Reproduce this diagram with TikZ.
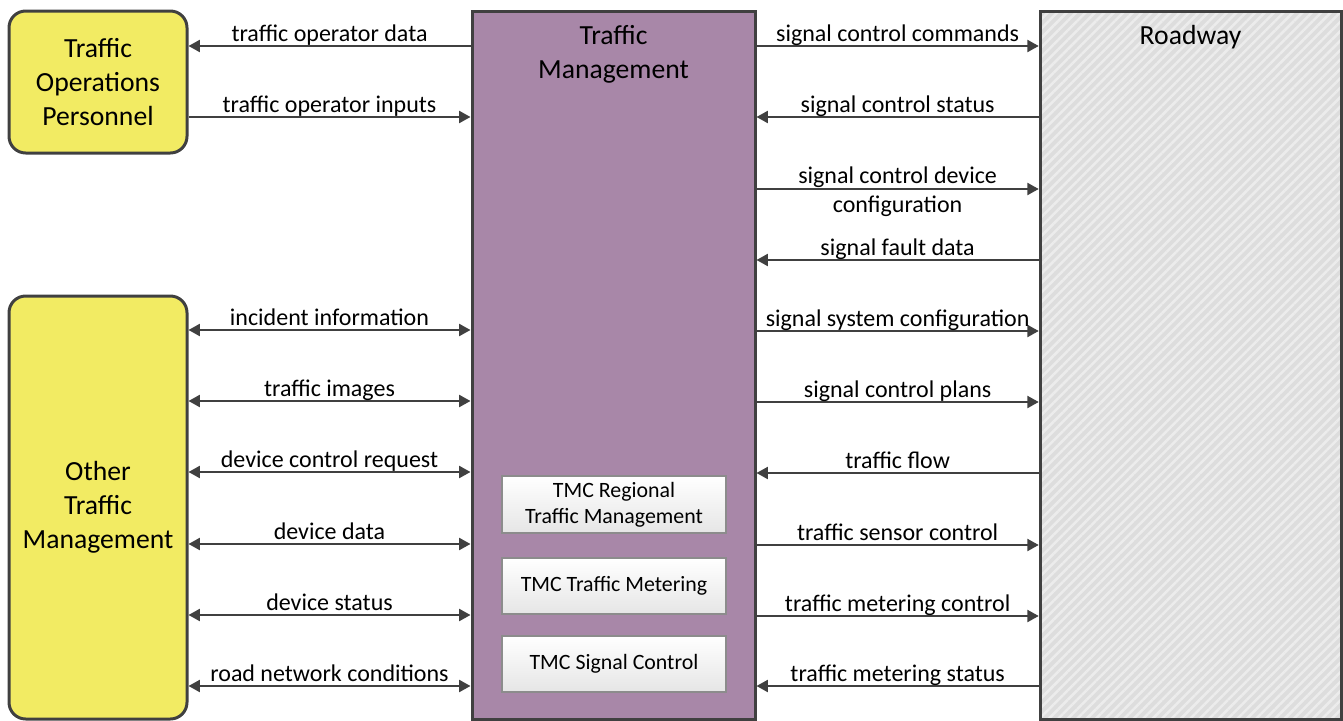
\documentclass[tikz,border=0pt]{standalone}
\usepackage{fontspec}
\setmainfont{Carlito}
\usetikzlibrary{arrows.meta,patterns.meta,fit}
\definecolor{ylw}{RGB}{242,235,99}
\definecolor{prp}{RGB}{168,135,168}
\definecolor{edge}{RGB}{64,64,64}
\definecolor{roadfill}{RGB}{221,221,221}
\definecolor{stripe}{RGB}{236,236,236}
\begin{document}
\begin{tikzpicture}[x=0.75pt,y=-0.75pt,
  term/.style={draw=edge, line width=2.25pt, fill=ylw, rounded corners=12.5pt, inner sep=0pt},
  termtext/.style={inner sep=0pt, align=center, font=\fontsize{20.75}{25.5}\selectfont},
  sys/.style={draw=edge, line width=2.25pt, fill=prp, inner sep=0pt},
  roadbox/.style={draw=edge, line width=2.25pt, preaction={fill=roadfill},
    pattern={Lines[angle=45,distance=5pt,line width=1.9pt]}, pattern color=stripe,
    inner sep=0pt},
  title/.style={anchor=north, inner sep=0pt, align=center,
    font=\fontsize{20.75}{25.5}\selectfont},
  sub/.style={draw=black!45, line width=0.9pt, top color=white, bottom color=black!10,
    inner sep=0pt},
  subtext/.style={inner sep=0pt, align=center, font=\fontsize{16.4}{19.5}\selectfont},
  flow/.style={draw=edge, line width=1.5pt},
  fwd/.style={flow, -{Triangle[length=8.5pt,width=9pt]}},
  both/.style={flow, {Triangle[length=8.5pt,width=9pt]}-{Triangle[length=8.5pt,width=9pt]}},
  labfont/.style={inner sep=0pt, text=black, font=\fontsize{18}{21.75}\selectfont},
  lab/.style={labfont, anchor=base, yshift=3.3pt},
  labtwo/.style={labfont, anchor=base, align=center, yshift=-17.25pt}
]
\useasboundingbox (0,0) rectangle (1343,721);

% terminators and the central system
\node[term, fit={(9,11) (187,153)}] (top) {};
\node[termtext] (toptext) at (top.center) {Traffic\\Operations\\Personnel};
\node[term, fit={(9,296) (187,719)}] (otm) {};
\node[termtext] (otmtext) at (otm.center) {Other\\Traffic\\Management};
\node[sys, fit={(472,11) (755,719)}] (tm) {};
\node[title] (tmtitle) at (613.5,25) {Traffic\\Management};
\node[roadbox, fit={(1040,11) (1341,719)}] (road) {};
\node[title] (roadtitle) at (1190.5,25) {Roadway};

% subsystems inside Traffic Management
\node[sub, fit={(502,476) (726,533)}] (reg) {};
\node[subtext] (regtext) at (reg.center) {TMC Regional\\Traffic Management};
\node[sub, fit={(502,558) (726,614)}] (met) {};
\node[subtext] (mettext) at (met.center) {TMC Traffic Metering};
\node[sub, fit={(502,636) (726,692)}] (sig) {};
\node[subtext] (sigtext) at (sig.center) {TMC Signal Control};

% flows on the left
\draw[fwd] (tm.west |- 0,46) -- node[lab]{traffic operator data} (top.east |- 0,46);
\draw[fwd] (top.east |- 0,117) -- node[lab]{traffic operator inputs} (tm.west |- 0,117);
\draw[both] (otm.east |- 0,330) -- node[lab]{incident information} (tm.west |- 0,330);
\draw[both] (otm.east |- 0,401) -- node[lab]{traffic images} (tm.west |- 0,401);
\draw[both] (otm.east |- 0,472) -- node[lab]{device control request} (tm.west |- 0,472);
\draw[both] (otm.east |- 0,544) -- node[lab]{device data} (tm.west |- 0,544);
\draw[both] (otm.east |- 0,615) -- node[lab]{device status} (tm.west |- 0,615);
\draw[both] (otm.east |- 0,686) -- node[lab]{road network conditions} (tm.west |- 0,686);

% flows on the right
\draw[fwd] (tm.east |- 0,46) -- node[lab]{signal control commands} (road.west |- 0,46);
\draw[fwd] (road.west |- 0,117) -- node[lab]{signal control status} (tm.east |- 0,117);
\draw[fwd] (tm.east |- 0,189) -- node[labtwo]{signal control device\\configuration} (road.west |- 0,189);
\draw[fwd] (road.west |- 0,260) -- node[lab]{signal fault data} (tm.east |- 0,260);
\draw[fwd] (tm.east |- 0,331) -- node[lab]{signal system configuration} (road.west |- 0,331);
\draw[fwd] (tm.east |- 0,402) -- node[lab]{signal control plans} (road.west |- 0,402);
\draw[fwd] (road.west |- 0,473) -- node[lab]{traffic flow} (tm.east |- 0,473);
\draw[fwd] (tm.east |- 0,545) -- node[lab]{traffic sensor control} (road.west |- 0,545);
\draw[fwd] (tm.east |- 0,616) -- node[lab]{traffic metering control} (road.west |- 0,616);
\draw[fwd] (road.west |- 0,686) -- node[lab]{traffic metering status} (tm.east |- 0,686);
\end{tikzpicture}
\end{document}
